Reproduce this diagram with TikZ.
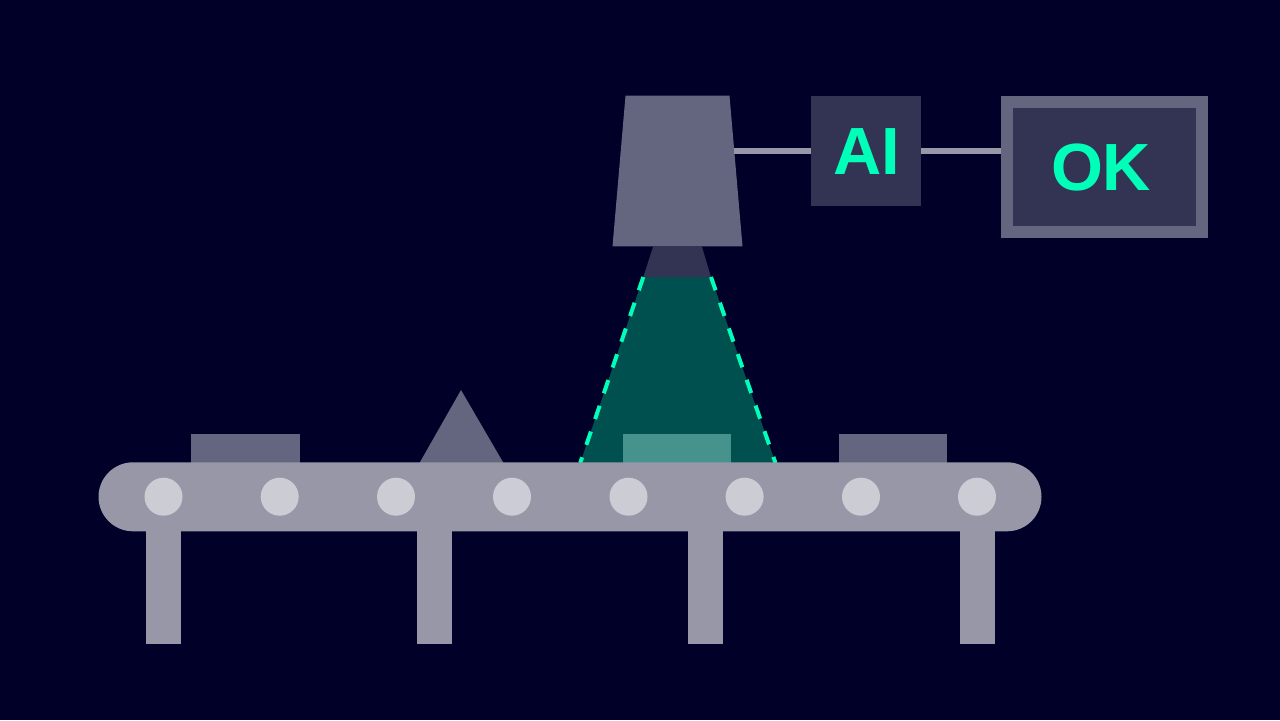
\documentclass[tikz,border=0pt]{standalone}
\usepackage{fontspec}
\setmainfont{Liberation Sans}
\definecolor{night}{HTML}{000028}
\definecolor{slate}{HTML}{64657E}
\definecolor{panel}{HTML}{333353}
\definecolor{steel}{HTML}{9797A7}
\definecolor{roller}{HTML}{CCCCD4}
\definecolor{mint}{HTML}{00FFB9}
\definecolor{beam}{HTML}{005050}
\definecolor{lit}{HTML}{46938D}
\tikzset{
  x=0.05cm, y=-0.05cm,
  partbox/.style={fill=slate},
  frame/.style={fill=steel},
  wire/.style={draw=steel, line width=0.3cm},
  beamedge/.style={draw=mint, line width=0.2cm, dash pattern=on 0.7cm off 0.66cm},
  badge/.style={font=\bfseries\fontsize{95}{95}\selectfont, text=mint, inner sep=0pt},
}
\begin{document}
\begin{tikzpicture}
  \useasboundingbox[fill=night] (0,0) rectangle (1280,720);

  % Camera housing and lens
  \fill[partbox] (625.5,95.7) -- (729.5,95.7) -- (742.5,246.3) -- (612.5,246.3) -- cycle;
  \coordinate (camport) at (734,151.3);
  \fill[panel] (653.3,246) -- (701.7,246) -- (711,277) -- (643.3,277) -- cycle;

  % Inspection beam
  \fill[beam] (643.3,277) -- (711,277) -- (775.5,463) -- (580.2,463) -- cycle;
  \coordinate (beamLtop) at (643.3,277);
  \coordinate (beamLbot) at (580.2,463);
  \coordinate (beamRtop) at (711,277);
  \coordinate (beamRbot) at (775.5,463);
  \draw[beamedge] (beamLtop) -- (beamLbot);
  \draw[beamedge] (beamRtop) -- (beamRbot);

  % Parts on the belt
  \fill[partbox] (191.3,434.3) rectangle (299.7,463);
  \fill[partbox] (461,390) -- (503.5,463) -- (419.5,463) -- cycle;
  \fill[lit] (623.3,434.3) rectangle (731,463);
  \fill[partbox] (839,434.3) rectangle (947,463);

  % Legs
  \foreach \lx in {146,417.2,688.4,959.8}
    \fill[frame] (\lx,525) rectangle ++(35,119);

  % Belt and rollers
  \fill[frame, rounded corners=1.725cm] (98.5,462.3) rectangle (1041.5,531.3);
  \foreach \rx in {163.5,279.7,396,512,628.5,744.6,861,977}
    \fill[roller] (\rx,496.7) circle (19);

  % Classifier and result display
  \node[badge, fill=panel, minimum width=5.48cm, minimum height=5.48cm] (ai) at (866,151.2) {\kern0.1cm AI};
  \node[badge, fill=panel, draw=slate, line width=0.6cm, minimum width=9.75cm, minimum height=6.48cm] (ok) at (1104.8,167.2) {OK\kern0.37cm};

  % Signal wires
  \draw[wire] (camport) -- (ai.west |- camport);
  \draw[wire] (ai.east |- camport) -- (ok.west |- camport);
\end{tikzpicture}
\end{document}
